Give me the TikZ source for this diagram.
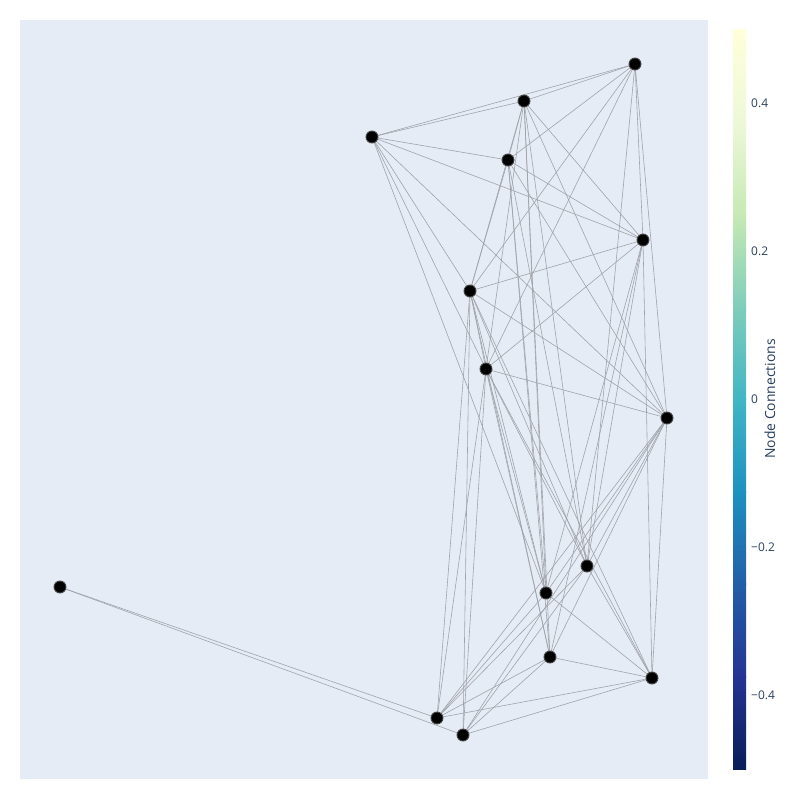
\documentclass[tikz,border=0pt]{standalone}
\usepackage{fontspec}
\setmainfont{Open Sans}

\definecolor{plotbg}{RGB}{229,236,246}
\definecolor{edgegray}{RGB}{160,162,168}
\definecolor{ticktext}{RGB}{42,63,95}
% YlGnBu scale
\definecolor{yg0}{RGB}{8,29,88}
\definecolor{yg1}{RGB}{37,52,148}
\definecolor{yg2}{RGB}{34,94,168}
\definecolor{yg3}{RGB}{29,145,192}
\definecolor{yg4}{RGB}{65,182,196}
\definecolor{yg5}{RGB}{127,205,187}
\definecolor{yg6}{RGB}{199,233,180}
\definecolor{yg7}{RGB}{237,248,217}
\definecolor{yg8}{RGB}{255,255,217}

\tikzset{
    edge/.style={draw=edgegray, line width=0.5pt},
    dot/.style={circle, fill=black, draw={rgb,255:red,70;green,70;blue,70}, line width=0.8pt, minimum size=0.36cm, inner sep=0pt},
    ticklabel/.style={anchor=west, inner sep=0pt, text=ticktext, font=\fontsize{10.2}{12}\selectfont}
}

\begin{document}
\begin{tikzpicture}[x=0.03cm, y=-0.03cm]
    % Page and plot area
    \fill[white] (0,0) rectangle (800,800);
    \useasboundingbox (0,0) rectangle (800,800);
    \fill[plotbg] (20,20) rectangle (708,779);

    % Node positions
    \coordinate (a) at (635,64);
    \coordinate (b) at (524,101);
    \coordinate (c) at (372,137);
    \coordinate (d) at (508,160);
    \coordinate (e) at (643,240);
    \coordinate (f) at (470,291);
    \coordinate (g) at (486,369);
    \coordinate (h) at (667,418);
    \coordinate (i) at (587,566);
    \coordinate (j) at (546,593);
    \coordinate (k) at (550,657);
    \coordinate (l) at (652,678);
    \coordinate (m) at (60,587);
    \coordinate (n) at (437,718);
    \coordinate (o) at (463,735);

    % Edges
    \foreach \u/\v in {a/b, a/c, a/d, a/e, a/f, a/g, a/h, a/i,
                       b/c, b/d, b/e, b/f, b/g, b/h, b/i, b/j, b/k,
                       c/d, c/e, c/f, c/g, c/h, c/j,
                       d/e, d/f, d/h, d/i, d/j, d/k,
                       e/f, e/g, e/i, e/j, e/k, e/l,
                       f/g, f/h, f/i, f/j, f/k, f/l, f/n, f/o,
                       g/h, g/i, g/j, g/k, g/l, g/n, g/o,
                       h/i, h/j, h/k, h/l, h/n, h/o,
                       i/l, i/n, i/o,
                       j/l, j/n,
                       k/l, k/n, k/o,
                       l/n, l/o,
                       m/n, m/o} {
        \draw[edge] (\u) -- (\v);
    }

    % Markers
    \foreach \p in {a,b,c,d,e,f,g,h,i,j,k,l,m,n,o} {
        \node[dot] (dot-\p) at (\p) {};
    }

    % Colour bar
    \foreach \lo/\hi [count=\s from 0] in {yg0/yg1, yg1/yg2, yg2/yg3, yg3/yg4,
                                           yg4/yg5, yg5/yg6, yg6/yg7, yg7/yg8} {
        \shade[bottom color=\lo, top color=\hi]
            (733,{769-\s*92.375+0.4}) rectangle (746,{769-(\s+1)*92.375-0.4});
    }
    \node[ticklabel] (t1) at (751,103) {0.4};
    \node[ticklabel] (t2) at (751,251) {0.2};
    \node[ticklabel] (t3) at (751,399) {0};
    \node[ticklabel] (t4) at (751,547) {−0.2};
    \node[ticklabel] (t5) at (751,695) {−0.4};
    \node[rotate=90, text=ticktext, inner sep=0pt, font=\fontsize{11.9}{14}\selectfont]
        (title) at (770,399) {Node Connections};
\end{tikzpicture}
\end{document}
